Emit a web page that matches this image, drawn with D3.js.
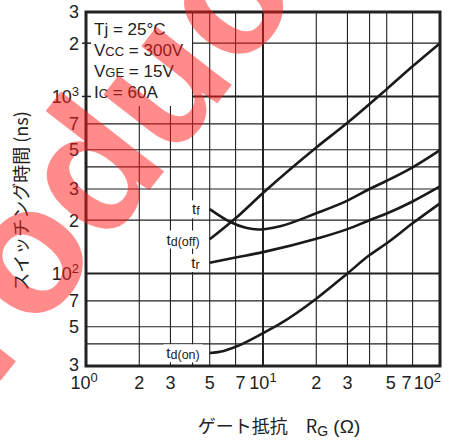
<!DOCTYPE html>
<html>
<head>
<meta charset="utf-8">
<script src="https://cdn.jsdelivr.net/npm/d3@7"></script>
<style>
  body { margin: 0; background: #fff; }
  .lbl { font-family: "Liberation Sans", Arial, sans-serif; fill: #222; }
  .jp { font-family: "Noto Sans CJK JP", sans-serif; fill: #222; }
</style>
</head>
<body>
<div id="chart"></div>
<script>
// gate resistance (ohm) vs switching time (ns)
var tdoffRg = [5, 7, 10, 20, 30, 50, 70, 100];
var tdoffNs = [156, 205, 285, 515, 710, 1100, 1480, 2000];
var tfRg = [5, 6.5, 8, 9.4, 12.5, 20, 30, 40, 50, 70, 100];
var tfNs = [231, 196, 181, 177, 185, 219, 258, 300, 334, 398, 498];
var trRg = [5, 7, 10, 20, 30, 40, 50, 70, 100];
var trNs = [115, 123, 132, 157, 178, 200, 218, 255, 310];
var tdonRg = [5, 6, 7, 10, 12.5, 20, 30, 40, 50, 70, 100];
var tdonNs = [35.5, 36.5, 38.5, 46, 52, 72, 100, 127, 148, 192, 249];

var xGrid = [2, 3, 4, 5, 7, 10, 20, 30, 40, 50, 70];
var yGrid = [40, 50, 70, 100, 200, 300, 400, 500, 700, 1000, 2000];
var xTicks = [1, 2, 3, 5, 7, 10, 20, 30, 50, 70, 100];
var yTicks = [30, 50, 70, 100, 200, 300, 500, 700, 1000, 2000, 3000];

var conditions = [
  ["T", "j", " = 25°C"],
  ["V", "CC", " = 300V"],
  ["V", "GE", " = 15V"],
  ["I", "C", " = 60A"]
];

var margin = {top: 12, right: 21, bottom: 75, left: 86};
var width = 461 - margin.left - margin.right;
var height = 441 - margin.top - margin.bottom;

var svg = d3.select("#chart")
  .append("svg")
  .attr("width", 461)
  .attr("height", 441);

var g = svg.append("g")
  .attr("transform", "translate(" + margin.left + "," + margin.top + ")");

var x = d3.scaleLog().domain([1, 100]).range([0, width]);
var y = d3.scaleLog().domain([30, 3000]).range([height, 0]);

function isDecade(v) {
  return Math.abs(Math.log10(v) - Math.round(Math.log10(v))) < 1e-9;
}

// grid
g.selectAll(".vgrid")
  .data(xGrid)
  .enter()
  .append("line")
  .attr("x1", d => x(d)).attr("x2", d => x(d))
  .attr("y1", 0).attr("y2", height)
  .attr("stroke", "#222")
  .attr("stroke-width", d => isDecade(d) ? 2 : 1.1);

g.selectAll(".hgrid")
  .data(yGrid)
  .enter()
  .append("line")
  .attr("x1", 0).attr("x2", width)
  .attr("y1", d => y(d)).attr("y2", d => y(d))
  .attr("stroke", "#222")
  .attr("stroke-width", d => isDecade(d) ? 2 : 1.1);

// conditions box
var cond = g.append("g");
var condText = cond.append("text")
  .attr("class", "lbl")
  .attr("font-size", 17);
conditions.forEach(function(c, i) {
  var t = condText.append("tspan")
    .attr("x", 8)
    .attr("y", 23 + i * 21);
  t.append("tspan").text(c[0]);
  t.append("tspan").attr("font-size", c[1] === "j" ? 17 : 13).text(c[1]);
  t.append("tspan").text(c[2]);
});
var cb = condText.node().getBBox();
cond.insert("rect", "text")
  .attr("x", 0).attr("y", 0)
  .attr("width", x(4) - 0.6)
  .attr("height", cb.y + cb.height + 4)
  .attr("fill", "#fff");

// small ticks on the left axis (visible inside the box)
g.selectAll(".ytick")
  .data([1000, 2000])
  .enter()
  .append("line")
  .attr("x1", -4).attr("x2", 5)
  .attr("y1", d => y(d)).attr("y2", d => y(d))
  .attr("stroke", "#222")
  .attr("stroke-width", 1.5);

// curves
var series = [
  {name: "tf", rg: tfRg, ns: tfNs},
  {name: "td(off)", rg: tdoffRg, ns: tdoffNs},
  {name: "tr", rg: trRg, ns: trNs},
  {name: "td(on)", rg: tdonRg, ns: tdonNs}
];

var line = d3.line()
  .x(d => x(d[0]))
  .y(d => y(d[1]))
  .curve(d3.curveMonotoneX);

series.forEach(function(s) {
  var pts = s.rg.map((r, i) => [r, s.ns[i]]);
  g.append("path")
    .attr("d", line(pts))
    .attr("fill", "none")
    .attr("stroke", "#1a1a1a")
    .attr("stroke-width", 2.6);

  // label left of the curve start, on a white patch
  var lg = g.append("g");
  var lt = lg.append("text")
    .attr("class", "lbl")
    .attr("x", x(s.rg[0]) - 10)
    .attr("y", y(s.ns[0]))
    .attr("dy", "0.35em")
    .attr("text-anchor", "end")
    .attr("font-size", 15);
  lt.append("tspan").text("t");
  lt.append("tspan").attr("font-size", 12.5).attr("dy", 1).text(s.name.slice(1));
  var b = lt.node().getBBox();
  lg.insert("rect", "text")
    .attr("x", b.x - 3).attr("y", b.y)
    .attr("width", b.width + 6).attr("height", b.height)
    .attr("fill", "#fff");
});

// frame
g.append("rect")
  .attr("width", width).attr("height", height)
  .attr("fill", "none")
  .attr("stroke", "#222")
  .attr("stroke-width", 3);

// tick labels
function tickLabel(sel, v) {
  if (isDecade(v)) {
    sel.append("tspan").text("10");
    sel.append("tspan").attr("font-size", 13).attr("dy", -7).text(Math.round(Math.log10(v)));
  } else {
    sel.text(String(v).charAt(0));
  }
}

yTicks.forEach(function(v) {
  var t = g.append("text")
    .attr("class", "lbl")
    .attr("x", -7)
    .attr("y", y(v))
    .attr("dy", v === 30 ? "0.3em" : "0.36em")
    .attr("text-anchor", "end")
    .attr("font-size", 18);
  tickLabel(t, v);
});

// nudge the crowded labels next to the decades apart
var xNudge = {1: -2, 7: 5, 50: 4, 70: -6, 100: 1};
xTicks.forEach(function(v, i) {
  var t = g.append("text")
    .attr("class", "lbl")
    .attr("x", x(v))
    .attr("y", height + 23)
    .attr("text-anchor", i === xTicks.length - 1 ? "end" : "middle")
    .attr("dx", xNudge[v] || 0)
    .attr("font-size", 18);
  tickLabel(t, v);
});

// axis titles
var xt = svg.append("text")
  .attr("class", "lbl")
  .attr("x", 279)
  .attr("y", 433)
  .attr("text-anchor", "middle")
  .attr("font-size", 18);
xt.append("tspan").attr("class", "jp").text("ゲート抵抗　R");
xt.append("tspan").attr("font-size", 14).attr("dy", 3).text("G");
xt.append("tspan").attr("dy", -3).attr("font-size", 19).text(" (Ω)");

svg.append("text")
  .attr("class", "jp")
  .attr("transform", "translate(28,201) rotate(-90)")
  .attr("text-anchor", "middle")
  .attr("font-size", 18)
  .text("スイッチング時間  (ns)");

// watermark, laid over everything
svg.append("text")
  .attr("transform", "translate(-81,485) rotate(-52)")
  .attr("font-size", 180)
  .attr("font-weight", "bold")
  .style("font-family", "Liberation Sans")
  .style("fill", "rgb(255,25,25)")
  .style("opacity", 0.5)
  .text("Product");
</script>
</body>
</html>
